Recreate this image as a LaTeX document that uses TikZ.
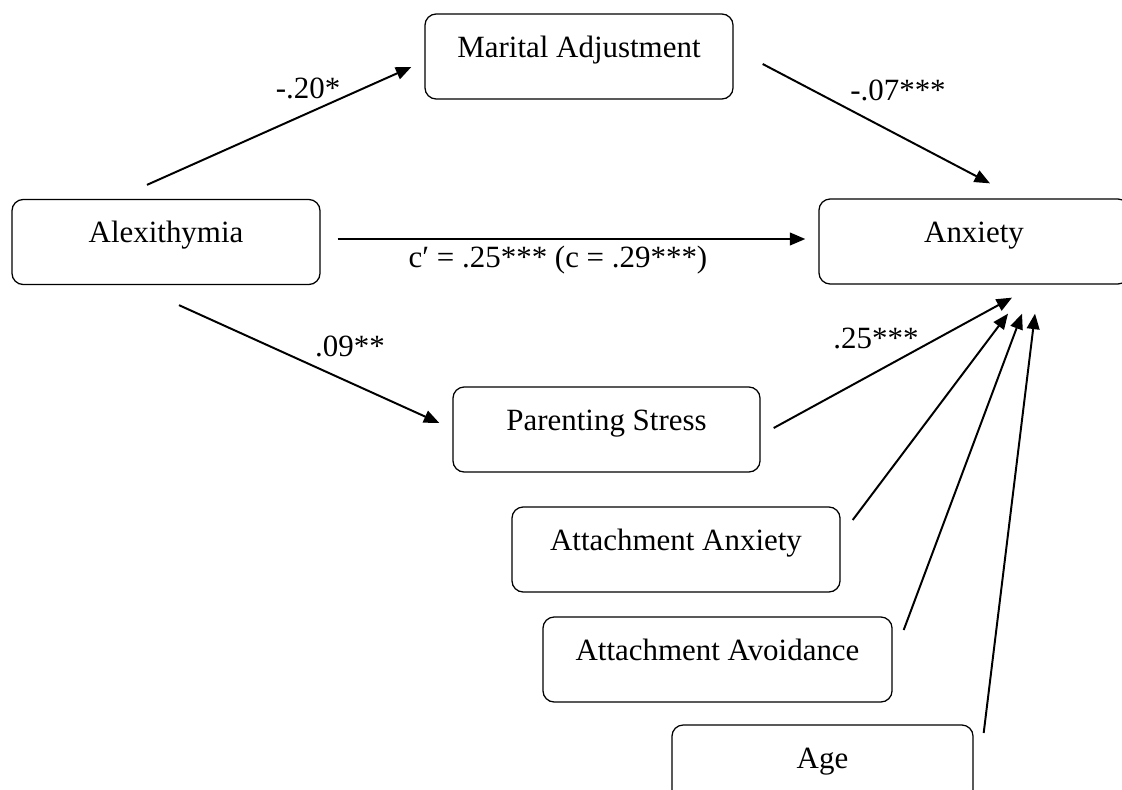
\documentclass[tikz,border=0pt]{standalone}
\usepackage{fontspec}
\setmainfont{Liberation Serif}
\usetikzlibrary{arrows.meta,positioning,calc}

\begin{document}
\begin{tikzpicture}[
    x=0.025cm, y=-0.025cm,
    font=\fontsize{22}{26}\selectfont,
    block/.style={
        rectangle,
        draw=black,
        line width=0.9pt,
        rounded corners=8pt,
        inner xsep=0pt,
        inner ysep=0pt,
        text height=1.075cm,
        text depth=1.05cm
    },
    arrow/.style={-{Triangle[length=11pt,width=9pt]}, line width=1.4pt},
    coef/.style={inner sep=0pt}
]

% frame of the page
\useasboundingbox (0,0) rectangle (1122,789);
\clip (0,0) rectangle (1122,789);

% =========================================
% Predictor, mediators and outcome
% =========================================
\node[block, minimum width=7.7cm] (alex) at (166,242) {Alexithymia};
\node[block, minimum width=7.7cm] (marital) at (579,56.5) {Marital Adjustment};
\node[block, minimum width=7.675cm] (parent) at (606.5,429.5) {Parenting Stress};
\node[block, minimum width=7.75cm] (anx) at (974,241.5) {Anxiety};

% =========================================
% Covariates
% =========================================
\node[block, minimum width=8.2cm] (attanx) at (676,549.5) {Attachment Anxiety};
\node[block, minimum width=8.725cm] (attavo) at (717.5,659.5) {Attachment Avoidance};
\node[block, minimum width=7.525cm] (age) at (822.5,767.5) {Age};

% =========================================
% Paths
% =========================================
% a paths
\draw[arrow] ($(alex.north)+(-19,-14)$) -- ($(marital.west)+(-13,10.5)$);
\draw[arrow] ($(alex.south)+(13,20)$) -- ($(parent.west)+(-13,-6.5)$);

% b paths
\draw[arrow] ($(marital.east)+(29,7.5)$) -- ($(anx.north)+(16,-15)$);
\draw[arrow] ($(parent.east)+(13,-1.5)$) -- ($(anx.south)+(38,13)$);

% direct effect
\draw[arrow] ($(alex.east)+(17,-3)$) -- ($(anx.west)+(-13,-2.5)$);

% covariates to outcome
\draw[arrow] ($(attanx.east)+(12,-29.5)$) -- ($(anx.south)+(34,29)$);
\draw[arrow] ($(attavo.east)+(11,-29.5)$) -- ($(anx.south)+(48,29)$);
\draw[arrow] ($(age.east)+(10,-34.5)$) -- ($(anx.south)+(61,29)$);

% =========================================
% Coefficients
% =========================================
\node[coef] (ca) at (308,88) {-.20*};
\node[coef] (cb) at (898,90) {-.07***};
\node[coef] (cd) at (558,260) {c′ = .25*** (c = .29***)};
\node[coef] (ce) at (350,346) {.09**};
\node[coef] (cf) at (876,338) {.25***};

\end{tikzpicture}
\end{document}
